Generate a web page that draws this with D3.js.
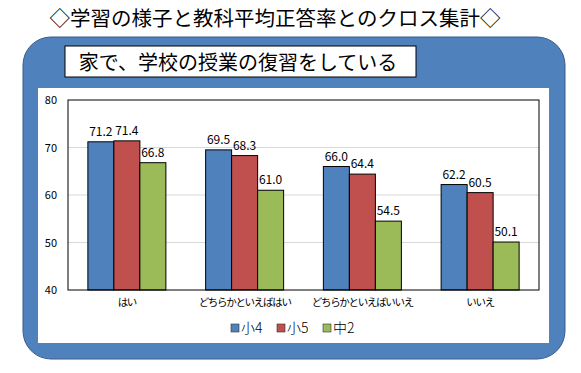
<!DOCTYPE html>
<html>
<head>
<meta charset="utf-8">
<script src="https://cdn.jsdelivr.net/npm/d3@7"></script>
<style>
  body { margin: 0; background: #fff; }
  svg { display: block; font-family: "Noto Sans CJK JP", "Noto Sans", sans-serif; }
</style>
</head>
<body>
<div id="chart"></div>
<script>
var categories = ["はい", "どちらかといえばはい", "どちらかといえばいいえ", "いいえ"];
var seriesNames = ["小4", "小5", "中2"];
var sho4 = [71.2, 69.5, 66.0, 62.2];
var sho5 = [71.4, 68.3, 64.4, 60.5];
var chu2 = [66.8, 61.0, 54.5, 50.1];
var yTicks = [40, 50, 60, 70, 80];

var colors = ["#4F81BD", "#C0504D", "#9BBB59"];
var seriesData = [sho4, sho5, chu2];

var width = 581, height = 373;
var svg = d3.select("#chart").append("svg")
  .attr("width", width).attr("height", height);

// main title
svg.append("text")
  .attr("x", 275).attr("y", 26)
  .attr("text-anchor", "middle")
  .attr("font-size", 20.5)
  .attr("fill", "#000")
  .text("◇学習の様子と教科平均正答率とのクロス集計◇");

// blue rounded frame
svg.append("rect")
  .attr("x", 23).attr("y", 37).attr("width", 542).attr("height", 322)
  .attr("rx", 28).attr("ry", 28)
  .attr("fill", "#4F81BD").attr("stroke", "#385D8A").attr("stroke-width", 1);

// subtitle box
svg.append("rect")
  .attr("x", 65).attr("y", 46).attr("width", 351).attr("height", 31)
  .attr("fill", "#fff").attr("stroke", "#000").attr("stroke-width", 1);
svg.append("text")
  .attr("x", 238).attr("y", 70)
  .attr("text-anchor", "middle")
  .attr("font-size", 20)
  .text("家で、学校の授業の復習をしている");

// white chart area
svg.append("rect")
  .attr("x", 38).attr("y", 88).attr("width", 511).attr("height", 255)
  .attr("fill", "#fff");

var plot = { left: 68, right: 539, top: 100, bottom: 290 };

var x0 = d3.scaleBand().domain(categories).range([plot.left, plot.right]).padding(0);
var x1 = d3.scaleBand().domain(seriesNames).range([0, 78]);
var y = d3.scaleLinear().domain([40, 80]).range([plot.bottom, plot.top]);

// gridlines
svg.append("g").selectAll("line").data(yTicks.slice(1, -1)).join("line")
  .attr("x1", plot.left).attr("x2", plot.right)
  .attr("y1", d => y(d)).attr("y2", d => y(d))
  .attr("stroke", "#D9D9D9").attr("stroke-width", 1);

// y tick labels
svg.append("g").selectAll("text").data(yTicks).join("text")
  .attr("x", 57).attr("y", d => y(d) + 4)
  .attr("text-anchor", "end")
  .attr("font-size", 11)
  .text(d => d);

// bars
var groups = svg.append("g").selectAll("g").data(categories).join("g")
  .attr("transform", c => "translate(" + (x0(c) + (x0.bandwidth() - 78) / 2) + ",0)");

seriesNames.forEach(function (s, si) {
  groups.append("rect")
    .attr("x", x1(s))
    .attr("y", (c, i) => y(seriesData[si][i]))
    .attr("width", x1.bandwidth())
    .attr("height", (c, i) => plot.bottom - y(seriesData[si][i]))
    .attr("fill", colors[si])
    .attr("stroke", "#000").attr("stroke-width", 1);
  groups.append("text")
    .attr("x", x1(s) + x1.bandwidth() / 2)
    .attr("y", (c, i) => y(seriesData[si][i]) - 6)
    .attr("text-anchor", "middle")
    .attr("font-size", 12)
    .text((c, i) => seriesData[si][i].toFixed(1));
});

// plot frame
svg.append("rect")
  .attr("x", plot.left).attr("y", plot.top)
  .attr("width", plot.right - plot.left).attr("height", plot.bottom - plot.top)
  .attr("fill", "none").attr("stroke", "#000").attr("stroke-width", 1);

// category labels
svg.append("g").selectAll("text").data(categories).join("text")
  .attr("x", c => x0(c) + x0.bandwidth() / 2)
  .attr("y", 306)
  .attr("text-anchor", "middle")
  .attr("font-size", 10.5)
  .attr("letter-spacing", -1.3)
  .text(c => c);

// legend
var legendX = [231, 277, 323];
var legend = svg.append("g").selectAll("g").data(seriesNames).join("g")
  .attr("transform", (d, i) => "translate(" + legendX[i] + ",324)");
legend.append("rect")
  .attr("width", 8).attr("height", 8)
  .attr("fill", (d, i) => colors[i]).attr("stroke", "#333").attr("stroke-width", 0.6);
legend.append("text")
  .attr("x", 10).attr("y", 9)
  .attr("font-size", 14)
  .attr("font-weight", 300)
  .text(d => d);
</script>
</body>
</html>
